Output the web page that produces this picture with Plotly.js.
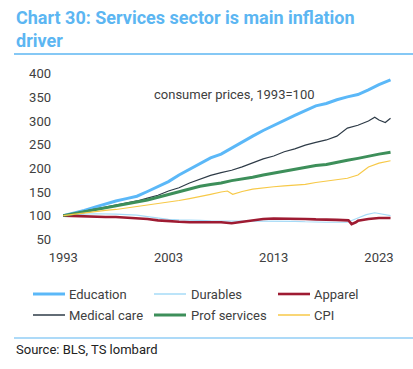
<!DOCTYPE html>
<html>
<head>
<meta charset="utf-8">
<script src="https://cdn.plot.ly/plotly-3.0.1.min.js"></script>
<style>
html,body{margin:0;padding:0;background:#fff;}
#chart{width:413px;height:369px;}
</style>
</head>
<body>
<div id="chart"></div>
<script>
// ---- data (index, 1993 = 100) ----
const eduYears = [1993,1994,1995,1996,1997,1998,1999,2000,2001,2002,2003,2004,2005,2006,2007,2008,2009,2010,2011,2012,2013,2014,2015,2016,2017,2018,2019,2020,2021,2022,2023,2024.1];
const education = [100,105,111,118,125,131,136,141,151,161,172,186,198,210,222,230,243,256,268,280,291,301,312,322,332,337,345,351,356,366,377,387];

const durYears = [1993,1994,1995,1996,1997,1998,1999,2000,2001,2002,2003,2004,2005,2006,2007,2008,2009,2010,2011,2012,2013,2014,2015,2016,2017,2018,2019,2020,2021,2021.8,2022.6,2023,2024.1];
const durables = [100,102,103,104,104,103,102,101,98,95,92,91,91,90,89,89,89,89,89,89,89,88,88,87,86,86,86,86,95,102,106,104,100];

const appYears = [1993,1994,1995,1996,1997,1998,1999,2000,2001,2002,2003,2004,2005,2006,2007,2008,2009,2010,2011,2012,2013,2014,2015,2016,2017,2018,2019,2020.1,2020.4,2020.8,2021,2022,2023,2024.1];
const apparel = [100,99,98,97,97,97,96,95,93,90,88,87,86,86,86,86,84,87,89,93,94,94,93,93,92,92,91,90,82,86,89,93,95,95];

const medYears = [1993,1994,1995,1996,1997,1998,1999,2000,2001,2002,2003,2004,2005,2006,2007,2008,2009,2010,2011,2012,2013,2014,2015,2016,2017,2018,2019,2020,2021,2022,2022.6,2023,2023.6,2024.1];
const medical = [100,105,110,114,118,122,126,131,137,143,152,159,169,177,185,191,196,203,211,220,226,235,241,249,255,260,268,285,291,300,308,302,297,306];

const profYears = [1993,1994,1995,1996,1997,1998,1999,2000,2001,2002,2003,2004,2005,2006,2007,2008,2009,2010,2011,2012,2013,2014,2015,2016,2017,2018,2019,2020,2021,2022,2023,2024.1];
const profServices = [100,104,108,112,116,120,124,128,133,139,145,151,157,162,166,169,174,177,181,186,190,194,199,203,206,208,213,217,221,226,230,234];

const cpiYears = [1993,1994,1995,1996,1997,1998,1999,2000,2001,2002,2003,2004,2005,2006,2007,2008,2008.6,2009.1,2010,2011,2012,2013,2014,2015,2016,2017,2018,2019,2020,2021,2022,2023,2024.1];
const cpi = [100,103,106,109,111,113,116,119,123,125,129,132,136,140,145,150,152,145,151,156,159,161,163,164,166,170,173,177,179,186,203,211,216];

const seriesNames = ["Education","Durables","Apparel","Medical care","Prof services","CPI"];
const tickYears = [1993,2003,2013,2023];
const tickValuesY = [50,100,150,200,250,300,350,400];

// ---- styling ----
const FONT = "Roboto, 'Noto Sans', Arial, sans-serif";
const TXT = "#404040";
const styles = [
  {color:"#5BB8F8", width:3},
  {color:"#A6DBF7", width:1.2},
  {color:"#9E1B32", width:2.6},
  {color:"#2E3B47", width:1.2},
  {color:"#3D8F5A", width:3},
  {color:"#F7C948", width:1.2}
];
const xs = [eduYears, durYears, appYears, medYears, profYears, cpiYears];
const ys = [education, durables, apparel, medical, profServices, cpi];

const traces = seriesNames.map((n,i) => ({
  type:"scatter", mode:"lines", hoverinfo:"skip", name:n, x:xs[i], y:ys[i], line:styles[i]
}));

// plot box geometry (pixels)
const W = 413, H = 369, M = {l:58, r:13, t:69, b:125};
const PW = W - M.l - M.r, PH = H - M.t - M.b;
const px = v => (v - M.l) / PW;          // pixel x -> paper x
const py = v => (H - M.b - v) / PH;      // pixel y -> paper y

// manual legend (3 columns x 2 rows)
const colLine = [[33,65],[154,186],[278,310]];
const colText = [67,189,312];
const rowY = [294,315];
const legendShapes = [], legendAnn = [];
seriesNames.forEach((n,i) => {
  const c = i % 3, r = Math.floor(i / 3);
  legendShapes.push({type:"line", xref:"paper", yref:"paper",
    x0:px(colLine[c][0]), x1:px(colLine[c][1]), y0:py(rowY[r]), y1:py(rowY[r]),
    line:{color:styles[i].color, width:Math.max(styles[i].width, 1.5)}});
  legendAnn.push({xref:"paper", yref:"paper", x:px(colText[c]), y:py(rowY[r]),
    xanchor:"left", yanchor:"middle", showarrow:false, text:n,
    font:{family:FONT, size:13, color:TXT}});
});

const layout = {
  width:W, height:H,
  margin:M,
  paper_bgcolor:"#fff", plot_bgcolor:"#fff",
  font:{family:FONT, size:13, color:TXT},
  showlegend:false,
  xaxis:{
    range:[1992.5, 2025], tickmode:"array", tickvals:tickYears, ticktext:tickYears.map(String),
    showgrid:false, zeroline:false, showline:false, ticks:"",
    tickfont:{family:FONT, size:13, color:TXT}, ticklabelstandoff:4
  },
  yaxis:{
    range:[40, 410], tickmode:"array", tickvals:tickValuesY,
    showgrid:false, zeroline:false, showline:false, ticks:"",
    tickfont:{family:FONT, size:13, color:TXT}, ticklabelstandoff:6
  },
  annotations:[
    {xref:"paper", yref:"paper", x:px(14), y:py(5), xanchor:"left", yanchor:"top", align:"left",
     text:"<b>Chart 30: Services sector is main inflation<br>driver</b>", showarrow:false,
     font:{family:FONT, size:18, color:"#5CB6F2"}},
    {xref:"x", yref:"y", x:2001.4, y:356, xanchor:"left", yanchor:"middle",
     text:"consumer prices, 1993=100", showarrow:false, font:{family:FONT, size:13, color:TXT}},
    {xref:"paper", yref:"paper", x:px(14), y:py(349), xanchor:"left", yanchor:"middle",
     text:"Source: BLS, TS lombard", showarrow:false, font:{family:FONT, size:13, color:"#222"}}
  ].concat(legendAnn),
  shapes:[
    {type:"line", xref:"paper", yref:"paper", x0:px(14), x1:px(413), y0:py(54), y1:py(54), line:{color:"#5CB6F2", width:1.5}},
    {type:"line", xref:"paper", yref:"paper", x0:px(14), x1:px(413), y0:py(338), y1:py(338), line:{color:"#5CB6F2", width:1.2}}
  ].concat(legendShapes)
};

Plotly.newPlot("chart", traces, layout, {staticPlot:true, displayModeBar:false});
</script>
</body>
</html>
